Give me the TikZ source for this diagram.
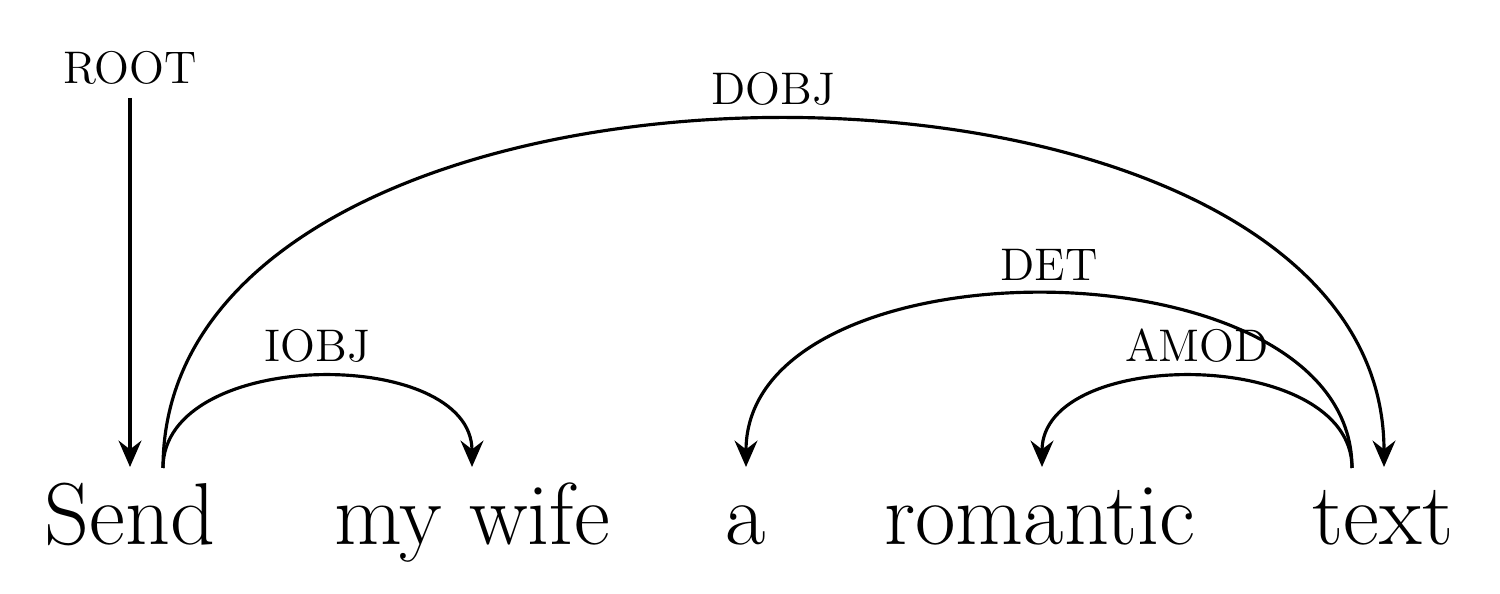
\documentclass[tikz,border=0pt]{standalone}
\usepackage{amsmath}
\usepackage{tikz}
\usetikzlibrary{arrows.meta}
\usetikzlibrary{positioning}
\tikzset{>={Stealth[length=7.5pt, width=6.5pt, inset=2.5pt]}}
\tikzset{
    word/.style={anchor=base, inner sep=0pt, font=\fontsize{25}{30}\selectfont},
    rel/.style={font=\fontsize{13}{15}\selectfont, inner sep=3.6pt},
    arc/.style={line width=0.9pt, ->},
}

\begin{document}
\begin{tikzpicture}[x=0.01cm, y=0.01cm] % dependency tree
	\useasboundingbox (0,0) rectangle (1500,594);
	\node[word] (send) at (130,49) {Send};
	\node[word] (wife) at (472,49) {my wife};
	\node[word] (a) at (746,49) {a};
	\node[word] (rom) at (1040,49) {romantic};
	\node[word] (text) at (1383,49) {text};
	\coordinate (send-in) at (130,127);
	\coordinate (send-out) at (163,126);
	\coordinate (wife-in) at (472,127);
	\coordinate (a-in) at (746,127);
	\coordinate (rom-in) at (1042,127);
	\coordinate (text-in) at (1384,127);
	\coordinate (text-out) at (1352,126);
	\node[rel] (root) at (130,526) {ROOT};
	\draw[arc] (root.south) -- (send-in);
	\draw[arc] (send-out) .. controls +(0,121) and +(0,121) .. (wife-in)
		node[rel, pos=0.5, above] (iobj) {IOBJ};
	\draw[arc] (send-out) .. controls +(0,464) and +(0,464) .. (text-in)
		node[rel, pos=0.5, above] (dobj) {DOBJ};
	\draw[arc] (text-out) .. controls +(0,231) and +(0,231) .. (a-in)
		node[rel, pos=0.5, above] (det) {DET};
	\draw[arc] (text-out) .. controls +(0,121) and +(0,121) .. (rom-in)
		node[rel, pos=0.5, above] (amod) {AMOD};
\end{tikzpicture}
\end{document}
